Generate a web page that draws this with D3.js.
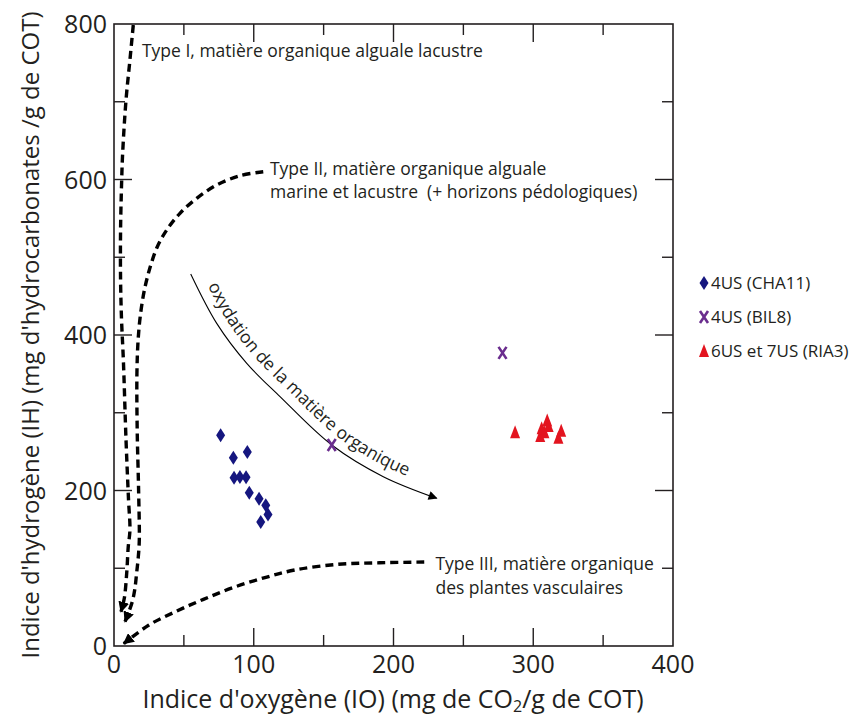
<!DOCTYPE html>
<html><head><meta charset="utf-8">
<script src="https://cdn.jsdelivr.net/npm/d3@7"></script>
<style>
body{margin:0;background:#fff}
text{font-family:"Open Sans",sans-serif;fill:#231f20}
</style>
</head><body>
<svg id="chart" width="857" height="722"></svg>
<script>
// ---- data ----
const xTickValues = [0, 100, 200, 300, 400];
const xMinorTickValues = [50, 150, 250, 350];
const yTickValues = [0, 200, 400, 600, 800];
const yMinorTickValues = [100, 300, 500, 700];

const cha11IO = [76.3, 85.4, 95.4, 85.9, 90.1, 94.5, 96.8, 103.8, 108.6, 110.2, 105];
const cha11IH = [271, 242, 249.5, 216.5, 217.4, 217, 197, 189.5, 181, 169, 159.5];
const bil8IO = [155.8, 278];
const bil8IH = [258.5, 377];
const ria3IO = [287, 305, 306, 308, 310, 311, 318, 320];
const ria3IH = [275, 270, 280, 275, 290, 283, 268, 277];

const legendLabels = ["4US (CHA11)", "4US (BIL8)", "6US et 7US (RIA3)"];

// evolution paths (IO, IH)
const typeIIO = [13.8, 11.4, 8.6, 6.2, 5.5, 4.7, 4.7, 5.4, 6.7, 8.6, 10.4, 11.4, 10.2, 9.1, 7.4, 5];
const typeIIH = [798.7, 753.7, 702.3, 634.1, 599.4, 535, 470.7, 419.3, 367.8, 265, 187.8, 149.2, 127.7, 93.9, 61.7, 44.1];
const typeIIIO = [106.8, 90.2, 73.5, 59.2, 47.2, 37.7, 31, 26, 22, 19.2, 17.3, 16.4, 16.6, 17.6, 18.1, 17.4, 16.2, 14.8, 12.8, 7.9];
const typeIIIH = [610, 604.9, 592.9, 575.8, 556.5, 535, 513.6, 488, 460, 430, 395, 350, 277.8, 200.6, 136.3, 114.9, 93.9, 72, 55.3, 31.3];
const typeIIIIO = [222, 190, 160, 130, 108, 85, 64, 45, 25, 7];
const typeIIIIH = [108, 107, 105, 98, 88, 75, 60, 45, 27, 3];
const oxIO = [54.9, 73.5, 95, 118.8, 155.8, 192.7, 230.9];
const oxIH = [478.5, 415, 363.6, 320.7, 258.5, 217.8, 190];

const typeILabel = ["Type I, matière organique alguale lacustre"];
const typeIILabel = ["Type II, matière organique alguale", "marine et lacustre  (+ horizons pédologiques)"];
const typeIIILabel = ["Type III, matière organique", "des plantes vasculaires"];
const oxLabel = "oxydation de la matière organique";
const xTitle = ["Indice d'oxygène (IO) (mg de CO", "2", "/g de COT)"];
const yTitle = "Indice d'hydrogène (IH) (mg d'hydrocarbonates /g de COT)";

// ---- layout ----
const L = 114, R = 673, T = 24, B = 646;
const x = d3.scaleLinear().domain([0, 400]).range([L, R]);
const y = d3.scaleLinear().domain([0, 800]).range([B, T]);
const ink = "#231f20";
const svg = d3.select("#chart");

const defs = svg.append("defs");
defs.append("marker").attr("id", "ah").attr("viewBox", "0 0 10 10")
  .attr("refX", 9).attr("refY", 5).attr("markerWidth", 11).attr("markerHeight", 11)
  .attr("markerUnits", "userSpaceOnUse").attr("orient", "auto")
  .append("path").attr("d", "M0,0 L10,5 L0,10 Z").attr("fill", "#000");
defs.append("marker").attr("id", "ahs").attr("viewBox", "0 0 10 10")
  .attr("refX", 9).attr("refY", 5).attr("markerWidth", 11).attr("markerHeight", 9)
  .attr("markerUnits", "userSpaceOnUse").attr("orient", "auto")
  .append("path").attr("d", "M0,0 L10,5 L0,10 Z").attr("fill", "#000");

// frame
svg.append("rect").attr("x", L).attr("y", T).attr("width", R - L).attr("height", B - T)
  .attr("fill", "none").attr("stroke", ink).attr("stroke-width", 1.6);

// ticks (inward, all four sides)
const majorLen = 18, minorLen = 11;
const tickG = svg.append("g").attr("stroke", ink).attr("stroke-width", 1.4);
function xt(vals, len) {
  vals.forEach(v => {
    if (v === 0 || v === 400) return;
    tickG.append("line").attr("x1", x(v)).attr("x2", x(v)).attr("y1", B).attr("y2", B - len);
    tickG.append("line").attr("x1", x(v)).attr("x2", x(v)).attr("y1", T).attr("y2", T + len);
  });
}
function yt(vals, len) {
  vals.forEach(v => {
    if (v === 0 || v === 800) return;
    tickG.append("line").attr("y1", y(v)).attr("y2", y(v)).attr("x1", L).attr("x2", L + len);
    tickG.append("line").attr("y1", y(v)).attr("y2", y(v)).attr("x1", R).attr("x2", R - len);
  });
}
xt(xTickValues, majorLen); xt(xMinorTickValues, minorLen);
yt(yTickValues, majorLen); yt(yMinorTickValues, minorLen);

// tick labels
svg.append("g").selectAll("text").data(xTickValues).join("text")
  .attr("x", d => x(d)).attr("y", 673).attr("text-anchor", "middle")
  .attr("font-size", 25).text(d => d);
svg.append("g").selectAll("text").data(yTickValues).join("text")
  .attr("x", 107).attr("y", d => y(d) + 9).attr("text-anchor", "end")
  .attr("font-size", 25).text(d => d);

// axis titles
const xt2 = svg.append("text").attr("x", 393).attr("y", 708).attr("text-anchor", "middle").attr("font-size", 25);
xt2.append("tspan").text(xTitle[0]);
xt2.append("tspan").attr("font-size", 16).attr("dy", 4).text(xTitle[1]);
xt2.append("tspan").attr("dy", -4).text(xTitle[2]);
svg.append("text").attr("transform", `translate(39,${(T + B) / 2}) rotate(-90)`)
  .attr("text-anchor", "middle").attr("font-size", 24).text(yTitle);

// evolution curves
function pts(a, b) { return a.map((v, i) => [x(v), y(b[i])]); }
const line = d3.line().curve(d3.curveCatmullRom.alpha(0.5));
[[typeIIO, typeIIH], [typeIIIO, typeIIIH], [typeIIIIO, typeIIIIH]].forEach(([a, b]) => {
  svg.append("path").attr("d", line(pts(a, b))).attr("fill", "none")
    .attr("stroke", "#000").attr("stroke-width", 3.4).attr("stroke-dasharray", "8,5")
    .attr("marker-end", "url(#ah)");
});

// oxidation arrow
const ox = svg.append("path").attr("d", line(pts(oxIO, oxIH))).attr("fill", "none")
  .attr("stroke", "#000").attr("stroke-width", 1.1).attr("marker-end", "url(#ahs)");
// offset baseline for label (parallel to the arrow, on its upper-right side)
const node = ox.node(), len = node.getTotalLength(), off = 10, samples = [];
for (let s = 0; s <= len; s += 4) {
  const p = node.getPointAtLength(s), q = node.getPointAtLength(Math.min(len, s + 1));
  const p0 = node.getPointAtLength(Math.max(0, s - 1));
  let tx = q.x - p0.x, ty = q.y - p0.y; const n = Math.hypot(tx, ty) || 1; tx /= n; ty /= n;
  samples.push([p.x + ty * off, p.y - tx * off]);
}
defs.append("path").attr("id", "oxText").attr("d", d3.line()(samples));
svg.append("text").attr("font-size", 17.5)
  .append("textPath").attr("href", "#oxText").attr("startOffset", 18).text(oxLabel);

// annotations
const annSize = 17.5;
svg.append("text").attr("x", x(20)).attr("y", 57).attr("font-size", annSize).text(typeILabel[0]);
const t2 = svg.append("text").attr("font-size", annSize).style("white-space", "pre");
typeIILabel.forEach((s, i) => t2.append("tspan").attr("x", x(111.6)).attr("y", 175 + i * 23).text(s));
const t3 = svg.append("text").attr("font-size", annSize);
typeIIILabel.forEach((s, i) => t3.append("tspan").attr("x", x(230)).attr("y", 570 + i * 24).text(s));

// markers
const diamond = "M0,-7L4.5,0L0,7L-4.5,0Z";
const tri = "M0,-7L5,6L-5,6Z";
const xmark = "M-4,-6L4,6M4,-6L-4,6";
const navy = "#15167f", purple = "#6a2d8e", red = "#e3141f";

svg.append("g").selectAll("path").data(cha11IO).join("path")
  .attr("transform", (d, i) => `translate(${x(d)},${y(cha11IH[i])})`)
  .attr("d", diamond).attr("fill", navy);
svg.append("g").selectAll("path").data(bil8IO).join("path")
  .attr("transform", (d, i) => `translate(${x(d)},${y(bil8IH[i])})`)
  .attr("d", xmark).attr("fill", "none").attr("stroke", purple).attr("stroke-width", 2.6);
svg.append("g").selectAll("path").data(ria3IO).join("path")
  .attr("transform", (d, i) => `translate(${x(d)},${y(ria3IH[i])})`)
  .attr("d", tri).attr("fill", red);

// legend
const lg = svg.append("g").attr("transform", "translate(704,283)");
const shapes = [{d: diamond, f: navy}, {d: xmark, s: purple}, {d: tri, f: red}];
legendLabels.forEach((lab, i) => {
  const g = lg.append("g").attr("transform", `translate(0,${i * 34})`);
  const p = g.append("path").attr("d", shapes[i].d);
  if (shapes[i].f) p.attr("fill", shapes[i].f);
  else p.attr("fill", "none").attr("stroke", shapes[i].s).attr("stroke-width", 2.6);
  g.append("text").attr("x", 7).attr("y", 6).attr("font-size", 17).text(lab);
});
</script>
</body></html>
